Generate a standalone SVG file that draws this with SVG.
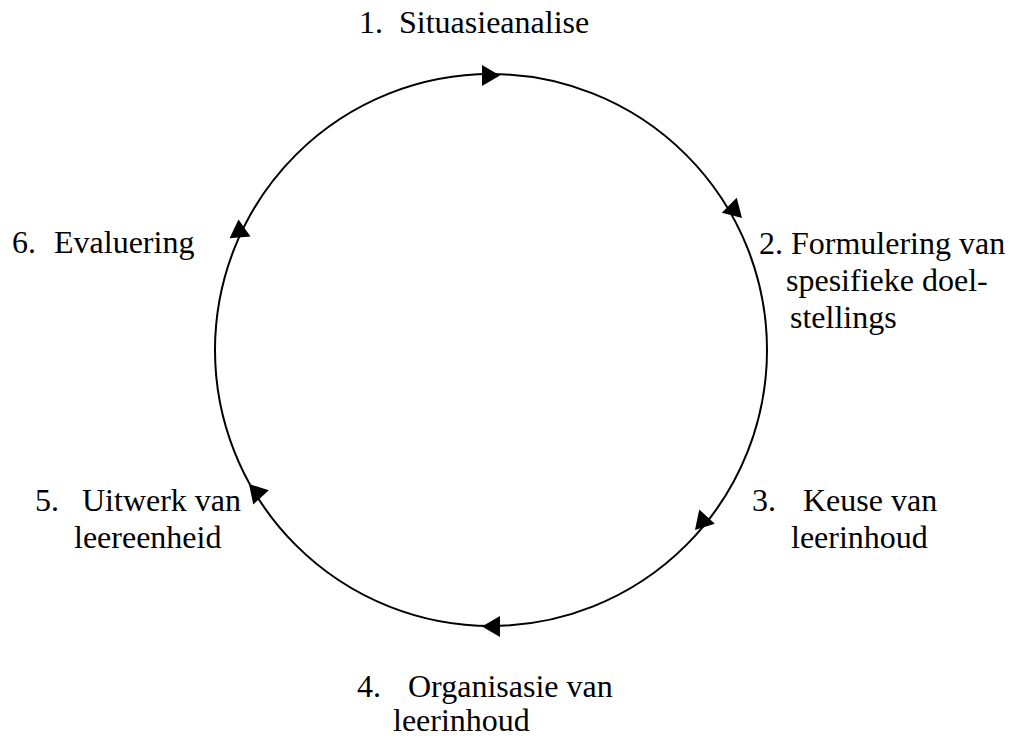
<svg xmlns="http://www.w3.org/2000/svg" width="1014" height="736" viewBox="0 0 1014 736">
<style>
  .t { font-family: "Liberation Serif", Tinos, "Times New Roman", "DejaVu Serif", serif; font-size: 32px; fill: #000; }
  .ring { fill: none; stroke: #000; stroke-width: 2; }
  .head { fill: #000; stroke: none; }
</style>
<defs>
  <path id="ah" class="head" d="M0,0 L-18,-10.5 L-18,10.5 Z"/>
</defs>
<rect width="1014" height="736" fill="#fff"/>
<g id="connectors">
  <circle class="ring" cx="491" cy="350" r="276"/>
  <use href="#ah" transform="translate(500,75.5) rotate(0)"/>
  <use href="#ah" transform="translate(742,218) rotate(45)"/>
  <use href="#ah" transform="translate(695,530) rotate(132)"/>
  <use href="#ah" transform="translate(482,626.5) rotate(180)"/>
  <use href="#ah" transform="translate(249,484) rotate(228)"/>
  <use href="#ah" transform="translate(238.5,219.5) rotate(-95)"/>
</g>
<g id="node1">
  <text class="t" y="33"><tspan x="359">1.</tspan><tspan x="399">Situasieanalise</tspan></text>
</g>
<g id="node2">
  <text class="t" x="759" y="254">2. Formulering van</text>
  <text class="t" x="786" y="291">spesifieke doel-</text>
  <text class="t" x="790" y="328">stellings</text>
</g>
<g id="node3">
  <text class="t" y="511"><tspan x="752">3.</tspan><tspan x="803">Keuse van</tspan></text>
  <text class="t" x="791" y="548">leerinhoud</text>
</g>
<g id="node4">
  <text class="t" y="697"><tspan x="357">4.</tspan><tspan x="408">Organisasie van</tspan></text>
  <text class="t" x="393" y="731">leerinhoud</text>
</g>
<g id="node5">
  <text class="t" y="511"><tspan x="35">5.</tspan><tspan x="82">Uitwerk van</tspan></text>
  <text class="t" x="74" y="548">leereenheid</text>
</g>
<g id="node6">
  <text class="t" y="253"><tspan x="12">6.</tspan><tspan x="54">Evaluering</tspan></text>
</g>
</svg>
